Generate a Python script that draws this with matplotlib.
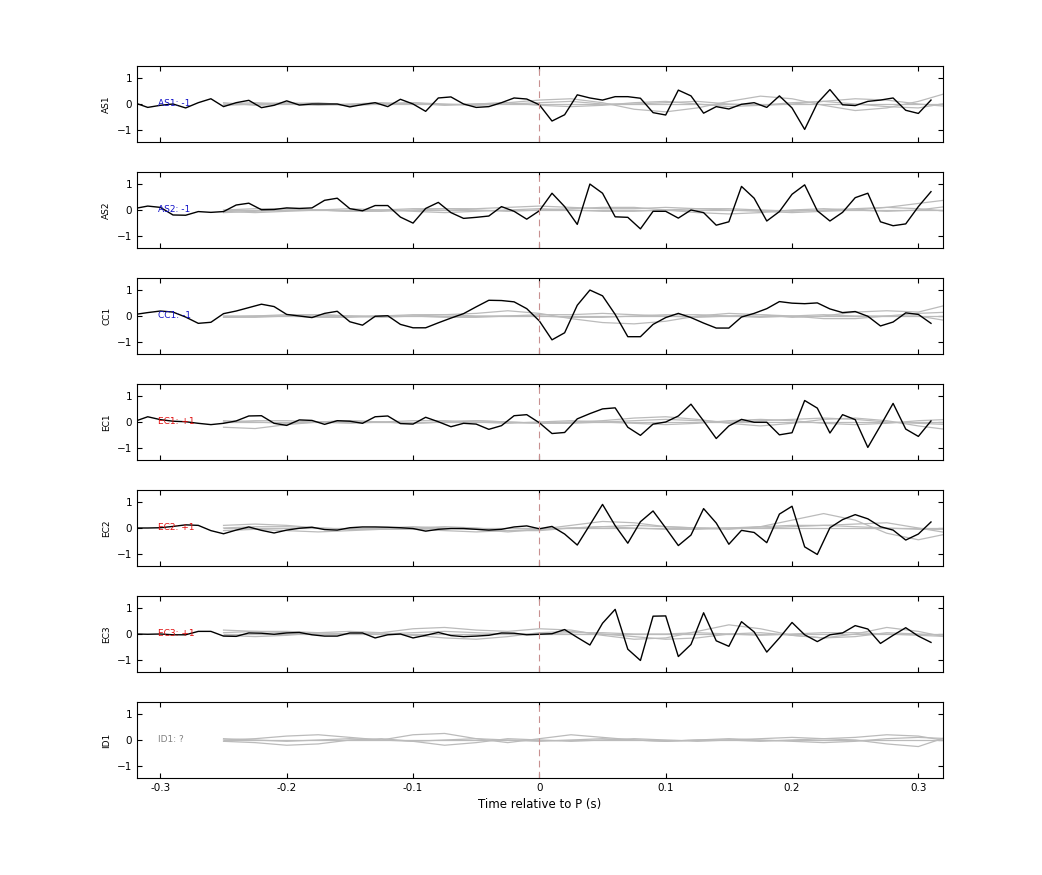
import numpy as np
import matplotlib.pyplot as plt

# station names and polarity labels
stations = ['AS1', 'AS2', 'CC1', 'EC1', 'EC2', 'EC3', 'ID1']
pol_labels = ['AS1: -1', 'AS2: -1', 'CC1: -1', 'EC1: +1', 'EC2: +1', 'EC3: +1', 'ID1: ?']
pol_colors = ['#1010c8', '#1010c8', '#1010c8', '#e01010', '#e01010', '#e01010', '#808080']

# black traces sampled every 0.01 s from -0.32 to 0.31
t_black = np.round(np.arange(-0.32, 0.315, 0.01), 2)

as1 = [0.04, -0.13, -0.05, 0.0, -0.15, 0.05, 0.2, -0.1, 0.05, 0.14, -0.14, -0.05,
       0.12, -0.04, 0.0, 0.0, 0.0, -0.11, -0.02, 0.05, -0.1, 0.18, 0.0, -0.28,
       0.23, 0.27, 0.0, -0.13, -0.1, 0.05, 0.23, 0.19, -0.03, -0.65, -0.41, 0.35,
       0.23, 0.15, 0.28, 0.28, 0.22, -0.33, -0.42, 0.53, 0.31, -0.35, -0.1, -0.19,
       -0.01, 0.05, -0.13, 0.31, -0.15, -0.97, 0.03, 0.55, -0.03, -0.06, 0.1, 0.15,
       0.23, -0.24, -0.36, 0.15]
as2 = [0.06, 0.15, 0.1, -0.19, -0.2, -0.06, -0.09, -0.06, 0.19, 0.26, 0.01, 0.02,
       0.08, 0.06, 0.08, 0.37, 0.45, 0.05, -0.03, 0.17, 0.17, -0.27, -0.5, 0.06,
       0.29, -0.1, -0.32, -0.28, -0.23, 0.13, -0.05, -0.35, -0.03, 0.64, 0.13, -0.55,
       0.99, 0.64, -0.26, -0.28, -0.72, -0.05, -0.05, -0.31, 0.0, -0.1, -0.58, -0.45,
       0.9, 0.45, -0.42, -0.06, 0.6, 0.96, -0.03, -0.42, -0.09, 0.47, 0.64, -0.45,
       -0.6, -0.53, 0.13, 0.7]
cc1 = [0.06, 0.13, 0.19, 0.15, -0.04, -0.28, -0.24, 0.09, 0.19, 0.32, 0.45, 0.36,
       0.06, 0.0, -0.06, 0.1, 0.18, -0.22, -0.35, -0.01, 0.01, -0.32, -0.45, -0.45,
       -0.26, -0.08, 0.09, 0.35, 0.6, 0.59, 0.54, 0.28, -0.19, -0.91, -0.64, 0.41,
       0.99, 0.77, 0.06, -0.79, -0.79, -0.32, -0.06, 0.1, -0.06, -0.27, -0.46, -0.46,
       -0.04, 0.1, 0.28, 0.55, 0.49, 0.47, 0.5, 0.27, 0.13, 0.17, -0.01, -0.38,
       -0.23, 0.12, 0.06, -0.28]
ec1 = [0.03, 0.2, 0.09, 0.03, 0.01, -0.05, -0.1, -0.05, 0.04, 0.23, 0.24, -0.05,
       -0.13, 0.08, 0.06, -0.09, 0.05, 0.03, -0.05, 0.2, 0.23, -0.06, -0.08, 0.18,
       0.01, -0.18, -0.05, -0.08, -0.28, -0.14, 0.24, 0.28, -0.03, -0.44, -0.4, 0.12,
       0.32, 0.5, 0.54, -0.2, -0.51, -0.08, 0.0, 0.23, 0.68, 0.04, -0.63, -0.15,
       0.1, -0.01, -0.01, -0.49, -0.41, 0.82, 0.53, -0.42, 0.28, 0.09, -0.97, -0.14,
       0.71, -0.27, -0.55, 0.04]
ec2 = [0.0, 0.0, 0.01, 0.06, 0.12, 0.1, -0.1, -0.22, -0.08, 0.04, -0.09, -0.19,
       -0.08, -0.01, 0.03, -0.06, -0.08, 0.01, 0.04, 0.04, 0.03, 0.01, -0.02, -0.12,
       -0.05, -0.02, -0.02, -0.05, -0.08, -0.05, 0.04, 0.08, -0.03, 0.06, -0.23, -0.65,
       0.12, 0.9, 0.09, -0.58, 0.24, 0.65, 0.0, -0.67, -0.27, 0.74, 0.19, -0.62,
       -0.09, -0.17, -0.56, 0.53, 0.83, -0.72, -1.01, 0.01, 0.32, 0.51, 0.35, 0.05,
       -0.08, -0.46, -0.23, 0.23]
ec3 = [0.0, -0.01, 0.0, -0.03, -0.03, 0.1, 0.1, -0.08, -0.09, 0.04, 0.03, -0.01,
       0.04, 0.06, -0.03, -0.08, -0.08, 0.04, 0.04, -0.15, -0.03, 0.0, -0.15, -0.05,
       0.06, -0.06, -0.1, -0.08, -0.05, 0.04, 0.03, -0.03, -0.01, 0.01, 0.17, -0.13,
       -0.42, 0.41, 0.94, -0.58, -1.01, 0.68, 0.69, -0.86, -0.4, 0.81, -0.26, -0.47,
       0.47, 0.08, -0.69, -0.15, 0.44, -0.03, -0.29, -0.03, 0.04, 0.32, 0.19, -0.36,
       -0.05, 0.24, -0.08, -0.32]
black_traces = [as1, as2, cc1, ec1, ec2, ec3, None]

# grey traces sampled every 0.025 s from -0.25 to 0.325
t_grey = np.round(np.arange(-0.25, 0.33, 0.025), 3)

grey_as1 = [
    [0.0, 0.05, 0.0, -0.05, 0.0, 0.05, 0.0, -0.03, 0.0, 0.05, 0.15, 0.2, 0.05, -0.2, -0.3, -0.15, 0.1, 0.3, 0.2, -0.05, -0.25, -0.15, 0.1, 0.45],
    [-0.05, 0.0, 0.05, 0.0, -0.05, 0.0, 0.05, 0.0, -0.05, 0.0, 0.05, 0.1, 0.0, 0.0, 0.05, 0.1, 0.0, -0.05, 0.0, 0.1, 0.2, 0.15, 0.0, -0.1],
    [0.0, 0.0, 0.0, 0.0, 0.0, 0.0, 0.0, 0.0, 0.0, 0.0, 0.0, 0.0, 0.0, 0.0, 0.0, 0.0, 0.0, 0.0, 0.0, 0.0, 0.0, 0.0, 0.0, 0.0],
    [0.05, -0.05, 0.0, 0.05, -0.05, 0.0, 0.05, -0.05, 0.0, 0.05, -0.05, -0.1, -0.05, 0.05, 0.1, 0.0, -0.1, -0.05, 0.05, 0.1, 0.0, -0.1, -0.15, 0.05],
]
grey_as2 = [
    [-0.1, -0.05, 0.0, 0.0, -0.05, -0.05, 0.0, 0.05, 0.05, 0.1, 0.15, 0.1, 0.05, 0.05, 0.1, 0.05, 0.0, -0.05, -0.1, -0.05, 0.0, 0.1, 0.25, 0.4],
    [0.0, 0.05, 0.05, 0.0, -0.05, 0.0, 0.05, 0.05, 0.0, -0.05, 0.0, 0.05, 0.1, 0.1, 0.0, -0.1, -0.15, -0.1, 0.0, 0.05, 0.0, -0.05, 0.0, 0.15],
    [0.0, 0.0, 0.0, 0.0, 0.0, 0.0, 0.0, 0.0, 0.0, 0.0, 0.0, 0.0, 0.0, 0.0, 0.0, 0.0, 0.0, 0.0, 0.0, 0.0, 0.0, 0.0, 0.0, 0.0],
    [-0.05, -0.1, -0.05, 0.0, 0.05, 0.0, -0.05, -0.1, -0.05, 0.0, 0.05, 0.0, -0.05, -0.05, 0.0, 0.05, 0.05, 0.0, -0.05, 0.0, 0.05, 0.1, 0.05, -0.05],
]
grey_cc1 = [
    [-0.05, -0.05, 0.0, 0.05, 0.0, -0.05, 0.0, 0.05, 0.1, 0.2, 0.1, -0.1, -0.25, -0.3, -0.2, 0.0, 0.1, 0.05, -0.05, 0.0, 0.15, 0.2, 0.15, 0.45],
    [0.0, 0.0, 0.05, 0.05, 0.0, 0.0, 0.05, 0.05, 0.0, 0.0, 0.05, 0.05, 0.1, 0.05, 0.0, -0.05, 0.0, 0.05, 0.0, -0.1, -0.1, 0.0, 0.0, -0.2],
    [0.0, 0.0, 0.0, 0.0, 0.0, 0.0, 0.0, 0.0, 0.0, 0.0, 0.0, 0.0, 0.0, 0.0, 0.0, 0.0, 0.0, 0.0, 0.0, 0.0, 0.0, 0.0, 0.0, 0.0],
    [-0.05, 0.0, 0.0, -0.05, -0.05, 0.0, 0.0, -0.05, -0.05, 0.0, 0.0, -0.05, -0.05, 0.0, 0.05, 0.05, 0.0, -0.05, 0.0, 0.05, 0.0, 0.0, 0.1, 0.15],
]
grey_ec1 = [
    [-0.2, -0.25, -0.1, 0.0, 0.05, 0.0, -0.05, 0.0, 0.05, 0.0, -0.05, 0.0, 0.05, 0.15, 0.2, 0.1, -0.05, -0.15, -0.05, 0.1, 0.15, 0.05, -0.15, -0.3],
    [0.0, 0.05, 0.05, 0.0, -0.05, 0.0, 0.05, 0.05, 0.0, -0.05, 0.0, 0.05, 0.0, 0.05, 0.1, 0.05, 0.0, 0.05, 0.1, 0.15, 0.1, 0.0, -0.05, -0.1],
    [0.0, 0.0, 0.0, 0.0, 0.0, 0.0, 0.0, 0.0, 0.0, 0.0, 0.0, 0.0, 0.0, 0.0, 0.0, 0.0, 0.0, 0.0, 0.0, 0.0, 0.0, 0.0, 0.0, 0.0],
    [0.05, 0.0, -0.05, 0.0, 0.05, 0.0, -0.05, 0.0, 0.05, 0.0, -0.05, -0.05, 0.0, -0.05, -0.1, -0.05, 0.05, 0.1, 0.05, -0.05, -0.1, -0.05, 0.05, 0.1],
]
grey_ec2 = [
    [0.1, 0.15, 0.1, 0.0, -0.05, 0.0, 0.05, 0.0, -0.05, -0.15, -0.05, 0.1, 0.25, 0.2, 0.05, 0.0, -0.05, 0.05, 0.3, 0.55, 0.3, -0.2, -0.45, -0.2],
    [0.0, 0.05, 0.05, 0.0, -0.05, -0.05, 0.0, 0.05, 0.0, -0.1, -0.1, 0.0, 0.05, 0.1, 0.05, 0.0, 0.0, 0.05, 0.1, 0.1, 0.15, 0.2, 0.0, -0.2],
    [0.0, 0.0, 0.0, 0.0, 0.0, 0.0, 0.0, 0.0, 0.0, 0.0, 0.0, 0.0, 0.0, 0.0, 0.0, 0.0, 0.0, 0.0, 0.0, 0.0, 0.0, 0.0, 0.0, 0.0],
    [-0.1, -0.05, -0.1, -0.15, -0.1, -0.05, -0.05, -0.1, -0.15, -0.1, -0.05, 0.0, 0.05, 0.0, -0.05, -0.05, 0.0, 0.0, 0.05, 0.1, 0.05, 0.0, -0.05, -0.05],
]
grey_ec3 = [
    [0.15, 0.1, 0.05, 0.0, 0.0, 0.05, 0.2, 0.25, 0.15, 0.1, 0.2, 0.15, -0.05, -0.2, -0.15, 0.1, 0.35, 0.2, -0.05, -0.15, 0.0, 0.25, 0.1, -0.15],
    [-0.05, -0.1, -0.05, 0.05, 0.1, 0.05, -0.05, -0.15, -0.2, -0.1, 0.05, 0.1, 0.0, -0.1, -0.2, -0.15, 0.0, 0.05, -0.05, -0.15, -0.1, 0.05, 0.0, -0.05],
    [0.0, 0.0, 0.0, 0.0, 0.0, 0.0, 0.0, 0.0, 0.0, 0.0, 0.0, 0.0, 0.0, 0.0, 0.0, 0.0, 0.0, 0.0, 0.0, 0.0, 0.0, 0.0, 0.0, 0.0],
    [0.05, 0.1, 0.1, 0.05, 0.0, 0.0, 0.05, 0.1, 0.05, 0.0, 0.0, 0.05, 0.05, 0.0, 0.0, 0.05, 0.0, -0.05, 0.0, 0.05, 0.05, 0.0, -0.05, -0.1],
]
grey_id1 = [
    [0.0, 0.05, 0.15, 0.2, 0.1, 0.0, 0.2, 0.25, 0.05, -0.1, 0.05, 0.2, 0.1, 0.0, -0.05, 0.0, 0.0, -0.05, 0.0, 0.05, 0.0, -0.15, -0.25, 0.15],
    [-0.05, -0.1, -0.2, -0.15, 0.0, 0.05, -0.05, -0.2, -0.1, 0.05, 0.0, -0.05, 0.0, 0.05, 0.0, -0.05, 0.0, 0.05, 0.1, 0.05, 0.1, 0.2, 0.15, -0.05],
    [0.0, 0.0, 0.0, 0.0, 0.0, 0.0, 0.0, 0.0, 0.0, 0.0, 0.0, 0.0, 0.0, 0.0, 0.0, 0.0, 0.0, 0.0, 0.0, 0.0, 0.0, 0.0, 0.0, 0.0],
    [0.05, 0.0, -0.05, 0.0, 0.05, 0.0, -0.05, 0.0, 0.05, 0.0, -0.05, 0.0, 0.05, 0.0, -0.05, 0.0, 0.05, 0.0, -0.05, -0.1, -0.05, 0.05, 0.1, 0.05],
]
grey_traces = [grey_as1, grey_as2, grey_cc1, grey_ec1, grey_ec2, grey_ec3, grey_id1]

fig = plt.figure(figsize=(10.42, 8.75), dpi=100)
W, H = 1042.0, 875.0
left_px, width_px, height_px = 137, 806, 76
tops_px = [66, 172, 278, 384, 490, 596, 702]

for i, name in enumerate(stations):
    ax = fig.add_axes([left_px / W, 1 - (tops_px[i] + height_px) / H, width_px / W, height_px / H])
    for g in grey_traces[i]:
        ax.plot(t_grey, g, color='#bbbbbb', lw=0.9)
    if black_traces[i] is not None:
        ax.plot(t_black, black_traces[i], color='black', lw=1.0)
    ax.axvline(0, color='#c89090', lw=0.8, ls=(0, (6, 4)))
    ax.text(-0.302, 0, pol_labels[i], color=pol_colors[i], fontsize=6.5, va='center', ha='left')
    ax.set_xlim(-0.3185, 0.3195)
    ax.set_ylim(-1.45, 1.45)
    ax.set_yticks([-1, 0, 1])
    ax.set_xticks([-0.3, -0.2, -0.1, 0, 0.1, 0.2, 0.3])
    ax.tick_params(direction='in', top=True, right=True, labelsize=7.5, length=3.5)
    ax.set_ylabel(name, fontsize=6.5)
    if i < len(stations) - 1:
        ax.set_xticklabels([])
    else:
        ax.set_xticklabels(['-0.3', '-0.2', '-0.1', '0', '0.1', '0.2', '0.3'])
        ax.set_xlabel('Time relative to P (s)', fontsize=8.5)

fig.savefig('out.png', dpi=100)
